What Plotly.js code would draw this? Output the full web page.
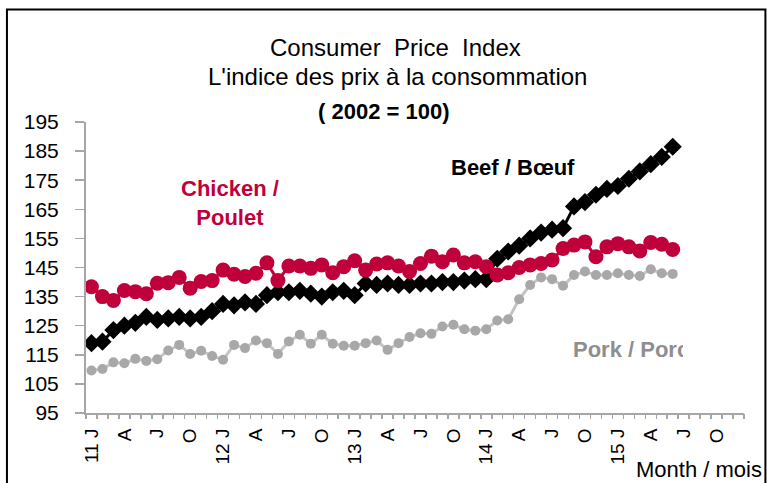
<!DOCTYPE html>
<html>
<head>
<meta charset="utf-8">
<script src="https://cdn.plot.ly/plotly-3.0.1.min.js"></script>
<style>
  html, body { margin: 0; padding: 0; background: #ffffff; }
  #chart { width: 767px; height: 483px; }
</style>
</head>
<body>
<div id="chart"></div>
<script>
// Month labels, Jan 2011 to Dec 2015
var monthLabels = [
  "11 J","F","M","A","M","J","J","A","S","O","N","D",
  "12 J","F","M","A","M","J","J","A","S","O","N","D",
  "13 J","F","M","A","M","J","J","A","S","O","N","D",
  "14 J","F","M","A","M","J","J","A","S","O","N","D",
  "15 J","F","M","A","M","J","J","A","S","O","N","D"
];

// Consumer price index values (2002 = 100), Jan 2011 to Jun 2015
var beef = [
  119, 119.5, 123.5, 125, 126, 128, 127, 127.5, 128, 127.5, 128, 130,
  132.5, 132, 133, 132.5, 135.5, 136.5, 136.5, 137, 136, 135, 136.5, 137,
  135.5, 139.5, 139, 139.5, 139, 139, 139.5, 139.5, 140, 140, 140.5, 141,
  141, 148, 150.5, 152.5, 155, 157, 158, 158.5, 166, 167.5, 170, 172,
  173, 175.5, 178, 180.5, 183, 186.5
];
var chicken = [
  138.4, 135.0, 133.7, 137.1, 136.7, 136.0, 139.6, 139.8, 141.6, 137.9, 140.2, 140.5,
  144.1, 142.7, 141.9, 143.0, 146.6, 140.5, 145.5, 145.5, 144.7, 145.9, 143.2, 145.3,
  147.3, 144.1, 146.2, 146.6, 145.5, 143.6, 146.4, 148.9, 147.0, 149.3, 146.6, 147.0,
  145.3, 142.4, 143.2, 145.0, 145.9, 146.4, 147.6, 151.5, 152.7, 153.8, 148.7, 152.1,
  153.2, 152.1, 150.7, 153.6, 153.0, 151.2
];
var pork = [
  109.6, 110.1, 112.4, 112.1, 113.6, 112.9, 113.5, 116.5, 118.4, 115.3, 116.4, 114.6,
  113.3, 118.4, 117.3, 119.9, 119.0, 115.3, 119.6, 121.9, 118.8, 121.9, 118.8, 118.1,
  118.1, 119.0, 119.9, 116.7, 119.0, 121.1, 122.4, 122.2, 124.7, 125.3, 123.8, 123.3,
  123.8, 126.8, 127.2, 134.1, 139.0, 141.6, 141.0, 138.7, 142.4, 143.6, 142.4, 142.4,
  143.0, 142.4, 142.1, 144.4, 143.0, 142.8
];

var yTickValues = [95, 105, 115, 125, 135, 145, 155, 165, 175, 185, 195];

// ---- build ----
function idx(arr) { return arr.map(function (_, i) { return i; }); }
var tickIdx = [], tickTxt = [];
monthLabels.forEach(function (l, i) { if (i % 3 === 0) { tickIdx.push(i); tickTxt.push(l); } });
var boundaries = [];
for (var b = 0; b <= monthLabels.length; b++) boundaries.push(b - 0.5);

// plot area in pixels
var L = 86, R = 743.6, T = 121.7, B = 413.3;
function fx(px) { return (px - L) / (R - L); }
function fy(py) { return (B - py) / (B - T); }

var FONT = "Liberation Sans, Arial, sans-serif";
var RED = "#C0003A";

var traces = [
  { x: idx(pork), y: pork, mode: "lines+markers", name: "Pork / Porc",
    line: { color: "#C4C4C4", width: 3 },
    marker: { symbol: "circle", size: 10, color: "#A8A8A8" } },
  { x: idx(beef), y: beef, mode: "lines+markers", name: "Beef / Bœuf",
    line: { color: "#000000", width: 3 },
    marker: { symbol: "diamond", size: 14, color: "#000000" } },
  { x: idx(chicken), y: chicken, mode: "lines+markers", name: "Chicken / Poulet",
    line: { color: RED, width: 3 },
    marker: { symbol: "circle", size: 15, color: RED } },
  { x: [0], y: [null], xaxis: "x2", mode: "markers", showlegend: false, hoverinfo: "skip" }
];

var layout = {
  width: 767, height: 483,
  margin: { l: L, r: 767 - R, t: T, b: 483 - B, pad: 0 },
  paper_bgcolor: "#ffffff", plot_bgcolor: "#ffffff",
  showlegend: false,
  font: { family: FONT, color: "#000000" },
  xaxis: {
    range: [-0.5, monthLabels.length - 0.5],
    tickmode: "array", tickvals: tickIdx, ticktext: tickTxt,
    tickangle: -90, ticks: "", showgrid: false, zeroline: false,
    showline: true, linecolor: "#A6A6A6", linewidth: 2,
    tickfont: { size: 19, family: FONT, color: "#000000" },
    ticklabelstandoff: 6
  },
  xaxis2: {
    overlaying: "x", anchor: "y", side: "bottom",
    range: [-0.5, monthLabels.length - 0.5],
    tickmode: "array", tickvals: boundaries, ticktext: boundaries.map(function () { return ""; }),
    showticklabels: false, ticks: "outside", ticklen: 5, tickwidth: 1.5, tickcolor: "#A6A6A6",
    showgrid: false, zeroline: false, showline: false
  },
  yaxis: {
    range: [95, 195], tickmode: "array", tickvals: yTickValues,
    ticktext: yTickValues.map(String),
    ticks: "outside", ticklen: 9, tickwidth: 1.5, tickcolor: "#A6A6A6",
    showline: true, linecolor: "#A6A6A6", linewidth: 2,
    showgrid: false, zeroline: false,
    tickfont: { size: 21, family: FONT, color: "#000000" },
    ticklabelstandoff: 12
  },
  annotations: [
    { xref: "paper", yref: "paper", x: fx(395), y: fy(47), xanchor: "center", yanchor: "middle",
      text: "Consumer  Price  Index", showarrow: false, font: { size: 24, family: FONT, color: "#000" } },
    { xref: "paper", yref: "paper", x: fx(397), y: fy(76), xanchor: "center", yanchor: "middle",
      text: "L'indice des prix à la consommation", showarrow: false, font: { size: 24, family: FONT, color: "#000" } },
    { xref: "paper", yref: "paper", x: fx(383), y: fy(111), xanchor: "center", yanchor: "middle",
      text: "<b>( 2002 = 100)</b>", showarrow: false, font: { size: 22, family: FONT, color: "#000" } },
    { xref: "paper", yref: "paper", x: fx(230), y: fy(203), xanchor: "center", yanchor: "middle",
      text: "<b>Chicken /<br>Poulet</b>", showarrow: false, font: { size: 22, family: FONT, color: RED } },
    { xref: "paper", yref: "paper", x: fx(513), y: fy(167), xanchor: "center", yanchor: "middle",
      text: "<b>Beef / Bœuf</b>", showarrow: false, font: { size: 22, family: FONT, color: "#000" } },
    { xref: "paper", yref: "paper", x: fx(571), y: fy(350), xanchor: "left", yanchor: "middle",
      width: 110, align: "left",
      text: "<b>Pork / Porc</b>", showarrow: false, font: { size: 22, family: FONT, color: "#8E8E8E" } },
    { xref: "paper", yref: "paper", x: fx(764), y: fy(470), xanchor: "right", yanchor: "middle",
      text: "Month / mois", showarrow: false, font: { size: 22, family: FONT, color: "#000" } }
  ],
  shapes: [
    { type: "rect", xref: "paper", yref: "paper", layer: "above",
      x0: fx(7), x1: fx(765), y0: fy(500), y1: fy(9),
      line: { color: "#000000", width: 2 }, fillcolor: "rgba(0,0,0,0)" }
  ]
};

Plotly.newPlot("chart", traces, layout, { staticPlot: true, displayModeBar: false });
</script>
</body>
</html>
